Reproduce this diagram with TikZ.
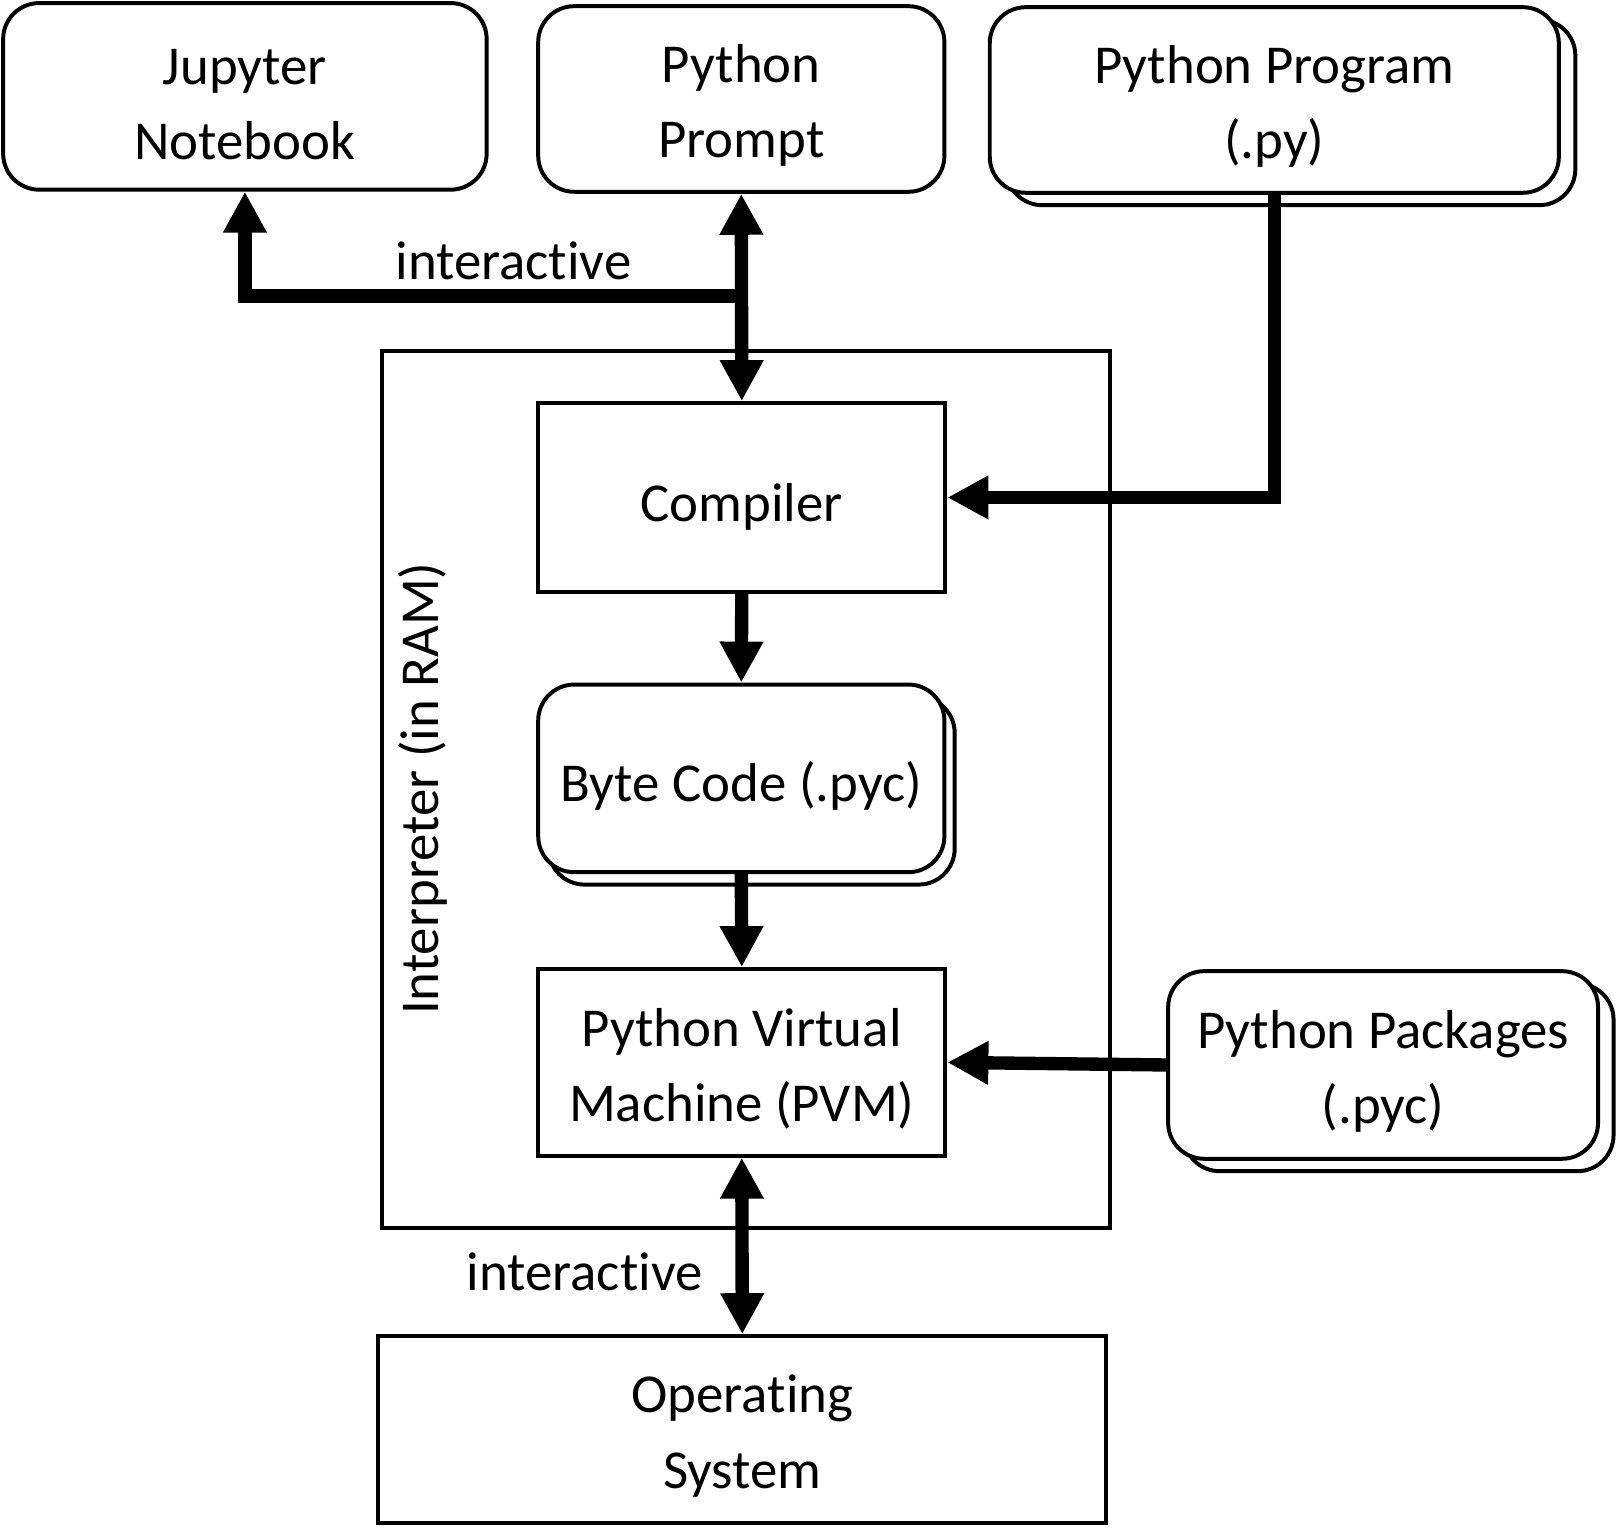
\documentclass[tikz,border=0pt]{standalone}
\usepackage{fontspec}
\setmainfont{Carlito}[Ligatures={NoCommon,NoRare}]
\usepackage{tikz}
\usetikzlibrary{arrows.meta, shadows, positioning}

% taller first line pushes the two-line texts down a little
\newcommand{\firstline}{\rule{0pt}{0.51cm}}

\tikzset{
    block/.style={draw, line width=1.13pt, fill=white, align=center, inner sep=0pt,
        execute at begin node={\rule{0pt}{0.56cm}}},
    roundblock/.style={block, rounded corners=0.36cm},
    stacked/.style={roundblock, copy shadow={shadow xshift=#1, shadow yshift=-0.124cm, draw, line width=1.13pt, fill=white}},
    flow/.style={line width=3.8pt, -{Triangle[length=0.41cm, width=0.41cm]}},
    twoway/.style={line width=3.8pt, {Triangle[length=0.41cm, width=0.41cm]}-{Triangle[length=0.41cm, width=0.41cm]}}
}

\begin{document}
\begin{tikzpicture}[font=\fontsize{15.6}{21.4}\selectfont]
    \useasboundingbox (0,0) rectangle (16.18,-15.37);

    % Front ends
    \node[roundblock, minimum width=4.835cm, minimum height=1.866cm] (jup) at (2.449,-0.964) {\firstline Jupyter\\Notebook};
    \node[roundblock, minimum width=4.062cm, minimum height=1.856cm] (prompt) at (7.413,-0.990) {\firstline Python\\Prompt};
    \node[stacked=0.165cm, minimum width=5.691cm, minimum height=1.856cm] (prog) at (12.743,-1.000) {\firstline Python Program\\(.py)};

    % Interpreter
    \node[draw, line width=1.13pt, minimum width=7.279cm, minimum height=8.764cm] (interp) at (7.464,-7.897) {};
    \node[rotate=90] (ram) at (4.227,-7.887) {Interpreter (in RAM)};

    \node[block, minimum width=4.072cm, minimum height=1.887cm] (comp) at (7.418,-4.975) {Compiler};
    \node[stacked=0.103cm, minimum width=4.062cm, minimum height=1.876cm] (byte) at (7.413,-7.784) {Byte Code (.pyc)};
    \node[block, minimum width=4.072cm, minimum height=1.866cm] (pvm) at (7.418,-10.624) {\firstline Python Virtual\\Machine (PVM)};

    \node[stacked=0.155cm, minimum width=4.299cm, minimum height=1.876cm] (pkg) at (13.831,-10.650) {\firstline Python Packages\\(.pyc)};

    % Operating system
    \node[block, minimum width=7.279cm, minimum height=1.866cm] (os) at (7.423,-14.295) {\firstline Operating\\System};

    % Arrows
    \coordinate (split) at (7.413,-2.959);
    \draw[twoway] (prompt.south) -- (comp.north);
    \draw[flow] (split) -| (jup.south);
    \node (inter1) at (5.134,-2.608) {interactive};
    \draw[flow] (prog.south) |- (comp.east);
    \draw[flow] (comp.south) -- (byte.north);
    \draw[flow] (byte.south) -- (pvm.north);
    \draw[flow] (pkg.west) -- (pvm.east);
    \draw[twoway] (pvm.south) -- (os.north);
    \node (inter2) at (5.846,-12.723) {interactive};
\end{tikzpicture}
\end{document}
